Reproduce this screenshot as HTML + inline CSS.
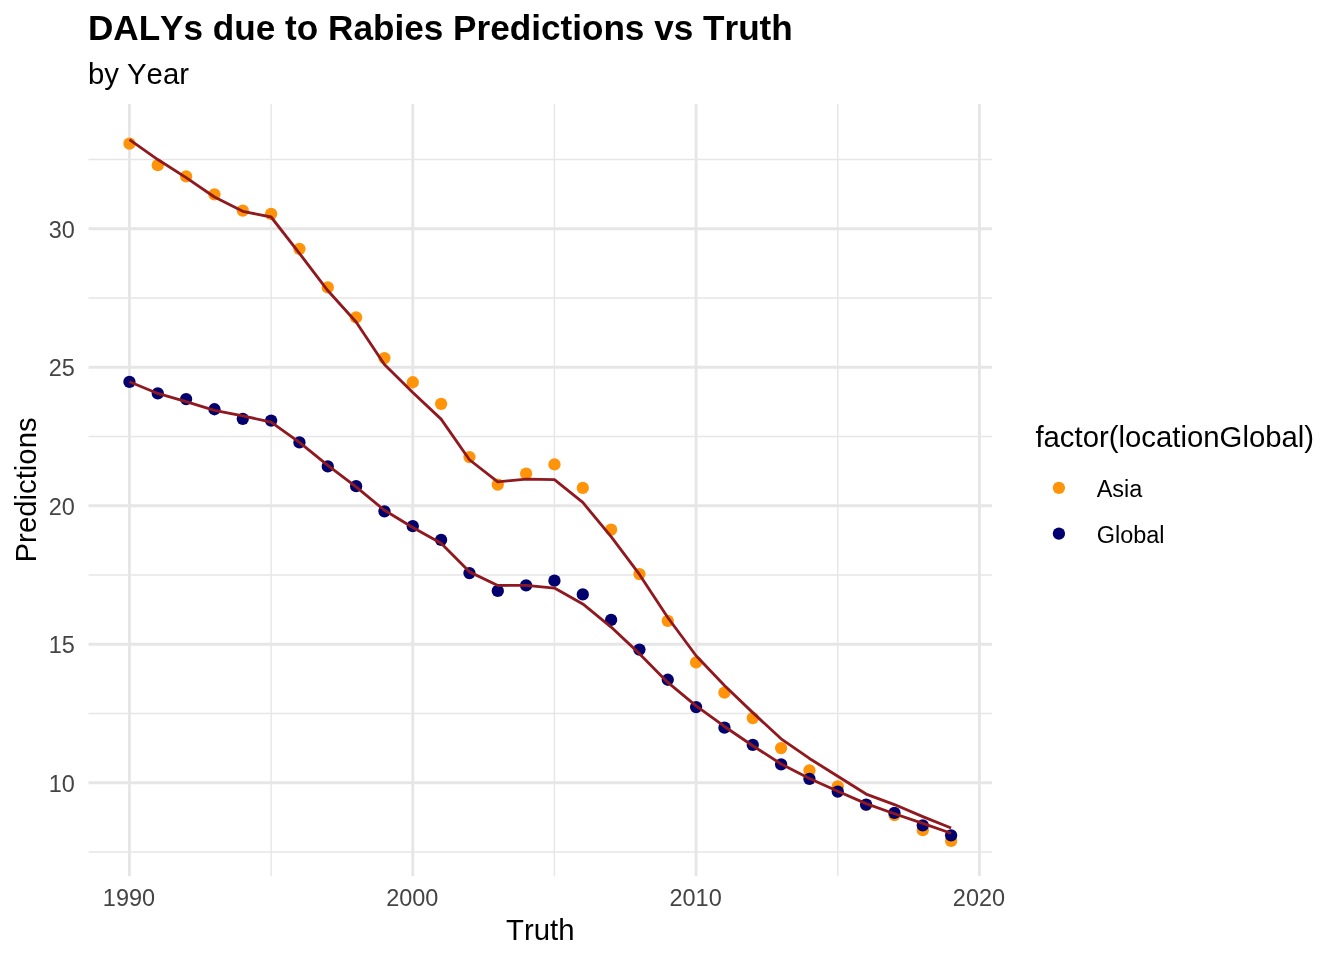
<!DOCTYPE html>
<html lang="en"><head><meta charset="utf-8"><title>DALYs due to Rabies Predictions vs Truth</title>
<style>
html,body{margin:0;padding:0;background:#fff;}
body{width:1344px;height:960px;overflow:hidden;}
svg{display:block;}
text{font-family:"Liberation Sans",Arial,Helvetica,sans-serif;font-kerning:none;font-variant-ligatures:none;}
.ax{font-size:23.47px;fill:#444444;}
.lb{font-size:29.33px;fill:#000;}
.lg{font-size:23.47px;fill:#000;}
</style></head><body>
<svg width="1344" height="960" viewBox="0 0 1344 960">
<rect width="1344" height="960" fill="#fff"/>

<g stroke="#E6E6E6" stroke-width="1.42" fill="none">
<line x1="88.5" x2="992.0" y1="159.50" y2="159.50"/>
<line x1="88.5" x2="992.0" y1="298.00" y2="298.00"/>
<line x1="88.5" x2="992.0" y1="436.50" y2="436.50"/>
<line x1="88.5" x2="992.0" y1="575.00" y2="575.00"/>
<line x1="88.5" x2="992.0" y1="713.50" y2="713.50"/>
<line x1="88.5" x2="992.0" y1="852.00" y2="852.00"/>
<line y1="104.0" y2="876.2" x1="271.12" x2="271.12"/>
<line y1="104.0" y2="876.2" x1="554.44" x2="554.44"/>
<line y1="104.0" y2="876.2" x1="837.77" x2="837.77"/>
</g>
<g stroke="#E6E6E6" stroke-width="2.85" fill="none">
<line x1="88.5" x2="992.0" y1="228.75" y2="228.75"/>
<line x1="88.5" x2="992.0" y1="367.25" y2="367.25"/>
<line x1="88.5" x2="992.0" y1="505.75" y2="505.75"/>
<line x1="88.5" x2="992.0" y1="644.25" y2="644.25"/>
<line x1="88.5" x2="992.0" y1="782.75" y2="782.75"/>
<line y1="104.0" y2="876.2" x1="129.45" x2="129.45"/>
<line y1="104.0" y2="876.2" x1="412.78" x2="412.78"/>
<line y1="104.0" y2="876.2" x1="696.11" x2="696.11"/>
<line y1="104.0" y2="876.2" x1="979.44" x2="979.44"/>
</g>
<g fill="#FF940A">
<circle cx="129.45" cy="143.65" r="6.15"/>
<circle cx="157.78" cy="165.15" r="6.15"/>
<circle cx="186.12" cy="176.35" r="6.15"/>
<circle cx="214.45" cy="194.35" r="6.15"/>
<circle cx="242.78" cy="210.55" r="6.15"/>
<circle cx="271.12" cy="213.85" r="6.15"/>
<circle cx="299.45" cy="248.85" r="6.15"/>
<circle cx="327.78" cy="287.45" r="6.15"/>
<circle cx="356.11" cy="317.45" r="6.15"/>
<circle cx="384.45" cy="358.05" r="6.15"/>
<circle cx="412.78" cy="382.25" r="6.15"/>
<circle cx="441.11" cy="403.85" r="6.15"/>
<circle cx="469.45" cy="457.05" r="6.15"/>
<circle cx="497.78" cy="484.55" r="6.15"/>
<circle cx="526.11" cy="473.55" r="6.15"/>
<circle cx="554.44" cy="464.45" r="6.15"/>
<circle cx="582.78" cy="487.95" r="6.15"/>
<circle cx="611.11" cy="529.55" r="6.15"/>
<circle cx="639.44" cy="574.10" r="6.15"/>
<circle cx="667.78" cy="620.85" r="6.15"/>
<circle cx="696.11" cy="662.45" r="6.15"/>
<circle cx="724.44" cy="692.55" r="6.15"/>
<circle cx="752.78" cy="718.05" r="6.15"/>
<circle cx="781.11" cy="748.05" r="6.15"/>
<circle cx="809.44" cy="770.35" r="6.15"/>
<circle cx="837.77" cy="786.35" r="6.15"/>
<circle cx="866.11" cy="804.85" r="6.15"/>
<circle cx="894.44" cy="815.05" r="6.15"/>
<circle cx="922.77" cy="830.15" r="6.15"/>
<circle cx="951.11" cy="840.95" r="6.15"/>
</g>
<g fill="#02006E">
<circle cx="129.45" cy="381.85" r="6.15"/>
<circle cx="157.78" cy="393.30" r="6.15"/>
<circle cx="186.12" cy="399.10" r="6.15"/>
<circle cx="214.45" cy="409.25" r="6.15"/>
<circle cx="242.78" cy="418.80" r="6.15"/>
<circle cx="271.12" cy="420.55" r="6.15"/>
<circle cx="299.45" cy="442.45" r="6.15"/>
<circle cx="327.78" cy="466.45" r="6.15"/>
<circle cx="356.11" cy="486.15" r="6.15"/>
<circle cx="384.45" cy="511.35" r="6.15"/>
<circle cx="412.78" cy="526.15" r="6.15"/>
<circle cx="441.11" cy="539.95" r="6.15"/>
<circle cx="469.45" cy="573.05" r="6.15"/>
<circle cx="497.78" cy="590.95" r="6.15"/>
<circle cx="526.11" cy="585.35" r="6.15"/>
<circle cx="554.44" cy="580.65" r="6.15"/>
<circle cx="582.78" cy="594.45" r="6.15"/>
<circle cx="611.11" cy="619.95" r="6.15"/>
<circle cx="639.44" cy="649.55" r="6.15"/>
<circle cx="667.78" cy="679.75" r="6.15"/>
<circle cx="696.11" cy="707.05" r="6.15"/>
<circle cx="724.44" cy="727.65" r="6.15"/>
<circle cx="752.78" cy="744.95" r="6.15"/>
<circle cx="781.11" cy="764.45" r="6.15"/>
<circle cx="809.44" cy="778.85" r="6.15"/>
<circle cx="837.77" cy="791.60" r="6.15"/>
<circle cx="866.11" cy="804.55" r="6.15"/>
<circle cx="894.44" cy="812.85" r="6.15"/>
<circle cx="922.77" cy="825.35" r="6.15"/>
<circle cx="951.11" cy="835.35" r="6.15"/>
</g>
<polyline points="129.45,139.55 157.78,159.55 186.12,177.65 214.45,197.05 242.78,211.35 271.12,217.00 299.45,253.35 327.78,290.55 356.11,321.95 384.45,364.45 412.78,392.45 441.11,419.10 469.45,459.75 497.78,481.85 526.11,479.10 554.44,479.65 582.78,502.45 611.11,536.60 639.44,574.45 667.78,617.50 696.11,655.75 724.44,685.55 752.78,712.65 781.11,738.80 809.44,758.45 837.77,776.25 866.11,794.05 894.44,804.55 922.77,816.60 951.11,828.05" fill="none" stroke="#90191F" stroke-width="2.85" stroke-linejoin="round" stroke-linecap="butt"/>
<polyline points="129.45,381.75 157.78,393.45 186.12,401.55 214.45,410.45 242.78,415.95 271.12,422.05 299.45,442.45 327.78,465.35 356.11,486.85 384.45,510.25 412.78,527.55 441.11,543.25 469.45,571.85 497.78,585.45 526.11,585.35 554.44,588.05 582.78,603.95 611.11,627.05 639.44,653.65 667.78,682.45 696.11,705.95 724.44,726.45 752.78,745.75 781.11,763.95 809.44,778.45 837.77,791.25 866.11,803.65 894.44,813.75 922.77,823.35 951.11,833.25" fill="none" stroke="#90191F" stroke-width="2.85" stroke-linejoin="round" stroke-linecap="butt"/>
<text class="ax" x="74.8" y="237.90" text-anchor="end">30</text>
<text class="ax" x="74.8" y="376.40" text-anchor="end">25</text>
<text class="ax" x="74.8" y="514.90" text-anchor="end">20</text>
<text class="ax" x="74.8" y="653.40" text-anchor="end">15</text>
<text class="ax" x="74.8" y="791.90" text-anchor="end">10</text>
<text class="ax" x="128.95" y="906.05" text-anchor="middle">1990</text>
<text class="ax" x="412.28" y="906.05" text-anchor="middle">2000</text>
<text class="ax" x="695.61" y="906.05" text-anchor="middle">2010</text>
<text class="ax" x="978.94" y="906.05" text-anchor="middle">2020</text>
<text class="lb" x="540.3" y="940" text-anchor="middle">Truth</text>
<text class="lb" transform="translate(35.7,489.9) rotate(-90)" text-anchor="middle">Predictions</text>
<text transform="translate(87.9,39.75) scale(0.9988,1.02)" font-size="35.2px" font-weight="bold" fill="#000">DALYs due to Rabies Predictions vs Truth</text>
<text class="lb" x="87.9" y="83.75">by Year</text>
<text class="lb" x="1035.4" y="446.8">factor(locationGlobal)</text>
<circle cx="1058.9" cy="487.8" r="6.15" fill="#FF940A"/>
<circle cx="1058.9" cy="533.7" r="6.15" fill="#02006E"/>
<text class="lg" x="1096.7" y="496.5">Asia</text>
<text class="lg" x="1096.7" y="542.6">Global</text>
</svg>
</body></html>
